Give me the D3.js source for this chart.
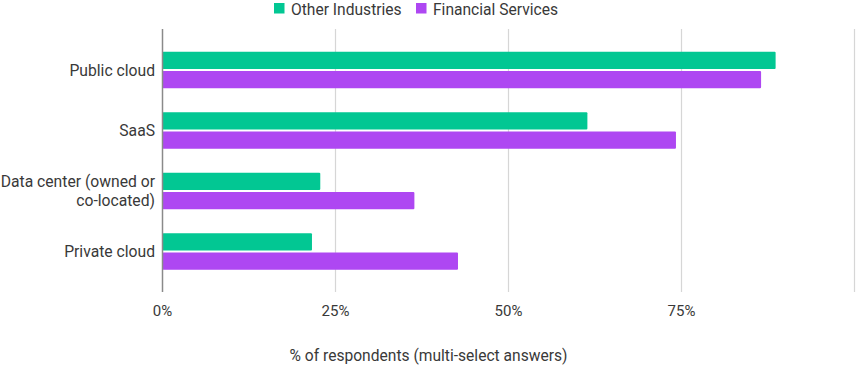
<!DOCTYPE html>
<html><head><meta charset="utf-8">
<script src="https://cdn.jsdelivr.net/npm/d3@7"></script>
<style>
body{margin:0;background:#fff;}
text{font-family:Roboto,"Noto Sans",sans-serif;fill:#393939;}
</style></head>
<body><svg id="c" width="856" height="365"></svg>
<script>
const categories = [["Public cloud"], ["SaaS"], ["Data center (owned or", "co-located)"], ["Private cloud"]];
const categoryKeys = ["Public cloud", "SaaS", "Data center", "Private cloud"];
const seriesNames = ["Other Industries", "Financial Services"];
const otherIndustries = [88.6, 61.4, 22.8, 21.6];
const financialServices = [86.5, 74.2, 36.4, 42.7];
const xTicks = [0, 25, 50, 75, 100];
const xTickLabels = ["0%", "25%", "50%", "75%", ""];
const xTitle = "% of respondents (multi-select answers)";
const colors = ["#02c793", "#ae47f2"];

const svg = d3.select("#c");
const x = d3.scaleLinear().domain([0, 100]).range([162.5, 854.5]);
const y = d3.scaleBand().domain(categoryKeys).range([39.75, 281.75]).padding(0);
const sub = d3.scaleBand().domain(seriesNames).range([-18.3, 18.3]).paddingInner(0.1);
const plotTop = 29, plotBottom = 292;

// gridlines
svg.append("g").selectAll("line").data(xTicks.slice(1)).join("line")
  .attr("x1", d => x(d)).attr("x2", d => x(d))
  .attr("y1", plotTop).attr("y2", plotBottom)
  .attr("stroke", "#d6d6d6").attr("stroke-width", 1.2);

// bars
const seriesData = [otherIndustries, financialServices];
const g = svg.append("g");
seriesNames.forEach((s, si) => {
  g.append("g").selectAll("rect").data(categoryKeys).join("rect")
    .attr("x", x(0))
    .attr("y", d => y(d) + y.bandwidth() / 2 + sub(s))
    .attr("width", (d, i) => x(seriesData[si][i]) - x(0))
    .attr("height", sub.bandwidth())
    .attr("rx", 1)
    .attr("fill", colors[si]);
});

// axis line at 0
svg.append("line").attr("x1", x(0)).attr("x2", x(0)).attr("y1", plotTop).attr("y2", plotBottom)
  .attr("stroke", "#8a8a8a").attr("stroke-width", 1.5);

// x tick labels
svg.append("g").selectAll("text").data(xTicks).join("text")
  .attr("x", d => x(d)).attr("y", 316)
  .attr("text-anchor", "middle").attr("font-size", 15)
  .text((d, i) => xTickLabels[i]);

// x title
svg.append("text").attr("x", 428.5).attr("y", 361).attr("text-anchor", "middle")
  .attr("font-size", 15.6).text(xTitle);

// y labels
categoryKeys.forEach((k, i) => {
  const lines = categories[i];
  const cy = y(k) + y.bandwidth() / 2;
  const lh = 19;
  const t = svg.append("text").attr("text-anchor", "end").attr("font-size", 15.7);
  lines.forEach((ln, j) => {
    t.append("tspan").attr("x", 155)
      .attr("y", cy + 5.5 + (j - (lines.length - 1) / 2) * lh)
      .text(ln);
  });
});

// legend
const legend = svg.append("g");
const legX = [274, 416];
seriesNames.forEach((s, i) => {
  legend.append("rect").attr("x", legX[i]).attr("y", 3).attr("width", 10.5).attr("height", 10.5).attr("fill", colors[i]);
  legend.append("text").attr("x", legX[i] + 17).attr("y", 14.5).attr("font-size", 15.6).attr("fill", "#444").text(s);
});
</script></body></html>
